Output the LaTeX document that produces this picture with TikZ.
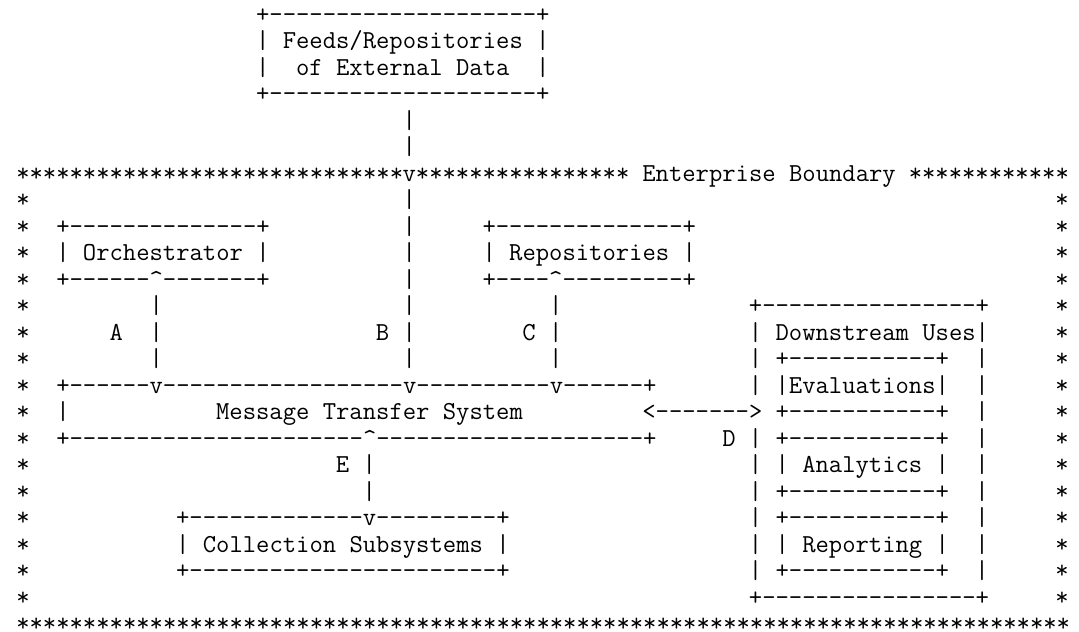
\documentclass[tikz,border=0pt]{standalone}
\usepackage{tikz}

% repeated characters for the ascii rules
\newcommand{\dashes}[1]{\foreach\k in {1,...,#1}{-}}
\newcommand{\stars}[1]{\foreach\k in {1,...,#1}{*}}
\newcommand{\upmark}{\textasciicircum}

\begin{document}
\begin{tikzpicture}[x=6.66pt,y=-13.26pt,
  asc/.style={font=\fontsize{12.95}{13.3}\selectfont\ttfamily,anchor=base west,inner sep=0pt,outer sep=0pt}]
\useasboundingbox[fill=white] (-1.224,-0.83) rectangle (79.78,23.0);
% --- external feeds on top ---
\node[asc] (feedsT) at (18,0) {+\dashes{20}+};
\node[asc] (feeds1) at (18,1) {| Feeds/Repositories |};
\node[asc] (feeds2) at (18,2) {|~~of External Data~~|};
\node[asc] (feedsB) at (18,3) {+\dashes{20}+};
\node[asc] (lnB4) at (29,4) {|};
\node[asc] (lnB5) at (29,5) {|};
% --- enterprise boundary ---
\node[asc] (bdL) at (0,6) {\stars{29}};
\node[asc] (bdV) at (29,6) {v};
\node[asc] (bdM) at (30,6) {\stars{16}};
\node[asc] (bdText) at (47,6) {Enterprise Boundary};
\node[asc] (bdR) at (67,6) {\stars{12}};
\foreach \r in {7,...,22}{
  \node[asc] (lb\r) at (0,\r) {*};
  \node[asc] (rb\r) at (78,\r) {*};
}
\node[asc] (bdBot) at (0,22.98) {\stars{79}};
% --- interface B from the feeds ---
\foreach \r in {7,...,13}
  \node[asc] (lnB\r) at (29,\r) {|};
\node[asc] (labB) at (27,12) {B};
% --- orchestrator and repositories ---
\node[asc] (orchT) at (3,8) {+\dashes{14}+};
\node[asc] (orch) at (3,9) {| Orchestrator |};
\node[asc] (orchB) at (3,10) {+\dashes{6}\upmark\dashes{7}+};
\node[asc] (repoT) at (35,8) {+\dashes{14}+};
\node[asc] (repo) at (35,9) {| Repositories |};
\node[asc] (repoB) at (35,10) {+\dashes{4}\upmark\dashes{9}+};
\foreach \r in {11,12,13}{
  \node[asc] (lnA\r) at (10,\r) {|};
  \node[asc] (lnC\r) at (40,\r) {|};
}
\node[asc] (labA) at (7,12) {A};
\node[asc] (labC) at (38,12) {C};
% --- message transfer system ---
\node[asc] (mtsT) at (3,14) {+\dashes{6}v\dashes{18}v\dashes{10}v\dashes{6}+};
\node[asc] (mtsL) at (3,15) {|};
\node[asc] (mts) at (15,15) {Message Transfer System};
\node[asc] (mtsB) at (3,16) {+\dashes{22}\upmark\dashes{20}+};
\node[asc] (lnD) at (47,15) {<\dashes{7}>};
\node[asc] (labD) at (53,16) {D};
% --- collection subsystems ---
\node[asc] (labE) at (24,17) {E};
\node[asc] (lnE17) at (26,17) {|};
\node[asc] (lnE18) at (26,18) {|};
\node[asc] (collT) at (12,19) {+\dashes{13}v\dashes{9}+};
\node[asc] (coll) at (12,20) {| Collection Subsystems |};
\node[asc] (collB) at (12,21) {+\dashes{23}+};
% --- downstream uses ---
\node[asc] (downT) at (55,11) {+\dashes{16}+};
\node[asc] (down) at (55,12) {| Downstream Uses|};
\foreach \r in {13,14,16,17,...,21}
  \node[asc] (dnL\r) at (55,\r) {|};
\foreach \r in {13,...,21}
  \node[asc] (dnR\r) at (72,\r) {|};
\node[asc] (downB) at (55,22) {+\dashes{16}+};
\node[asc] (evalT) at (57,13) {+\dashes{11}+};
\node[asc] (eval) at (57,14) {|Evaluations|};
\node[asc] (evalB) at (57,15) {+\dashes{11}+};
\node[asc] (analT) at (57,16) {+\dashes{11}+};
\node[asc] (anal) at (57,17) {| Analytics |};
\node[asc] (analB) at (57,18) {+\dashes{11}+};
\node[asc] (reptT) at (57,19) {+\dashes{11}+};
\node[asc] (rept) at (57,20) {| Reporting |};
\node[asc] (reptB) at (57,21) {+\dashes{11}+};
\end{tikzpicture}
\end{document}
